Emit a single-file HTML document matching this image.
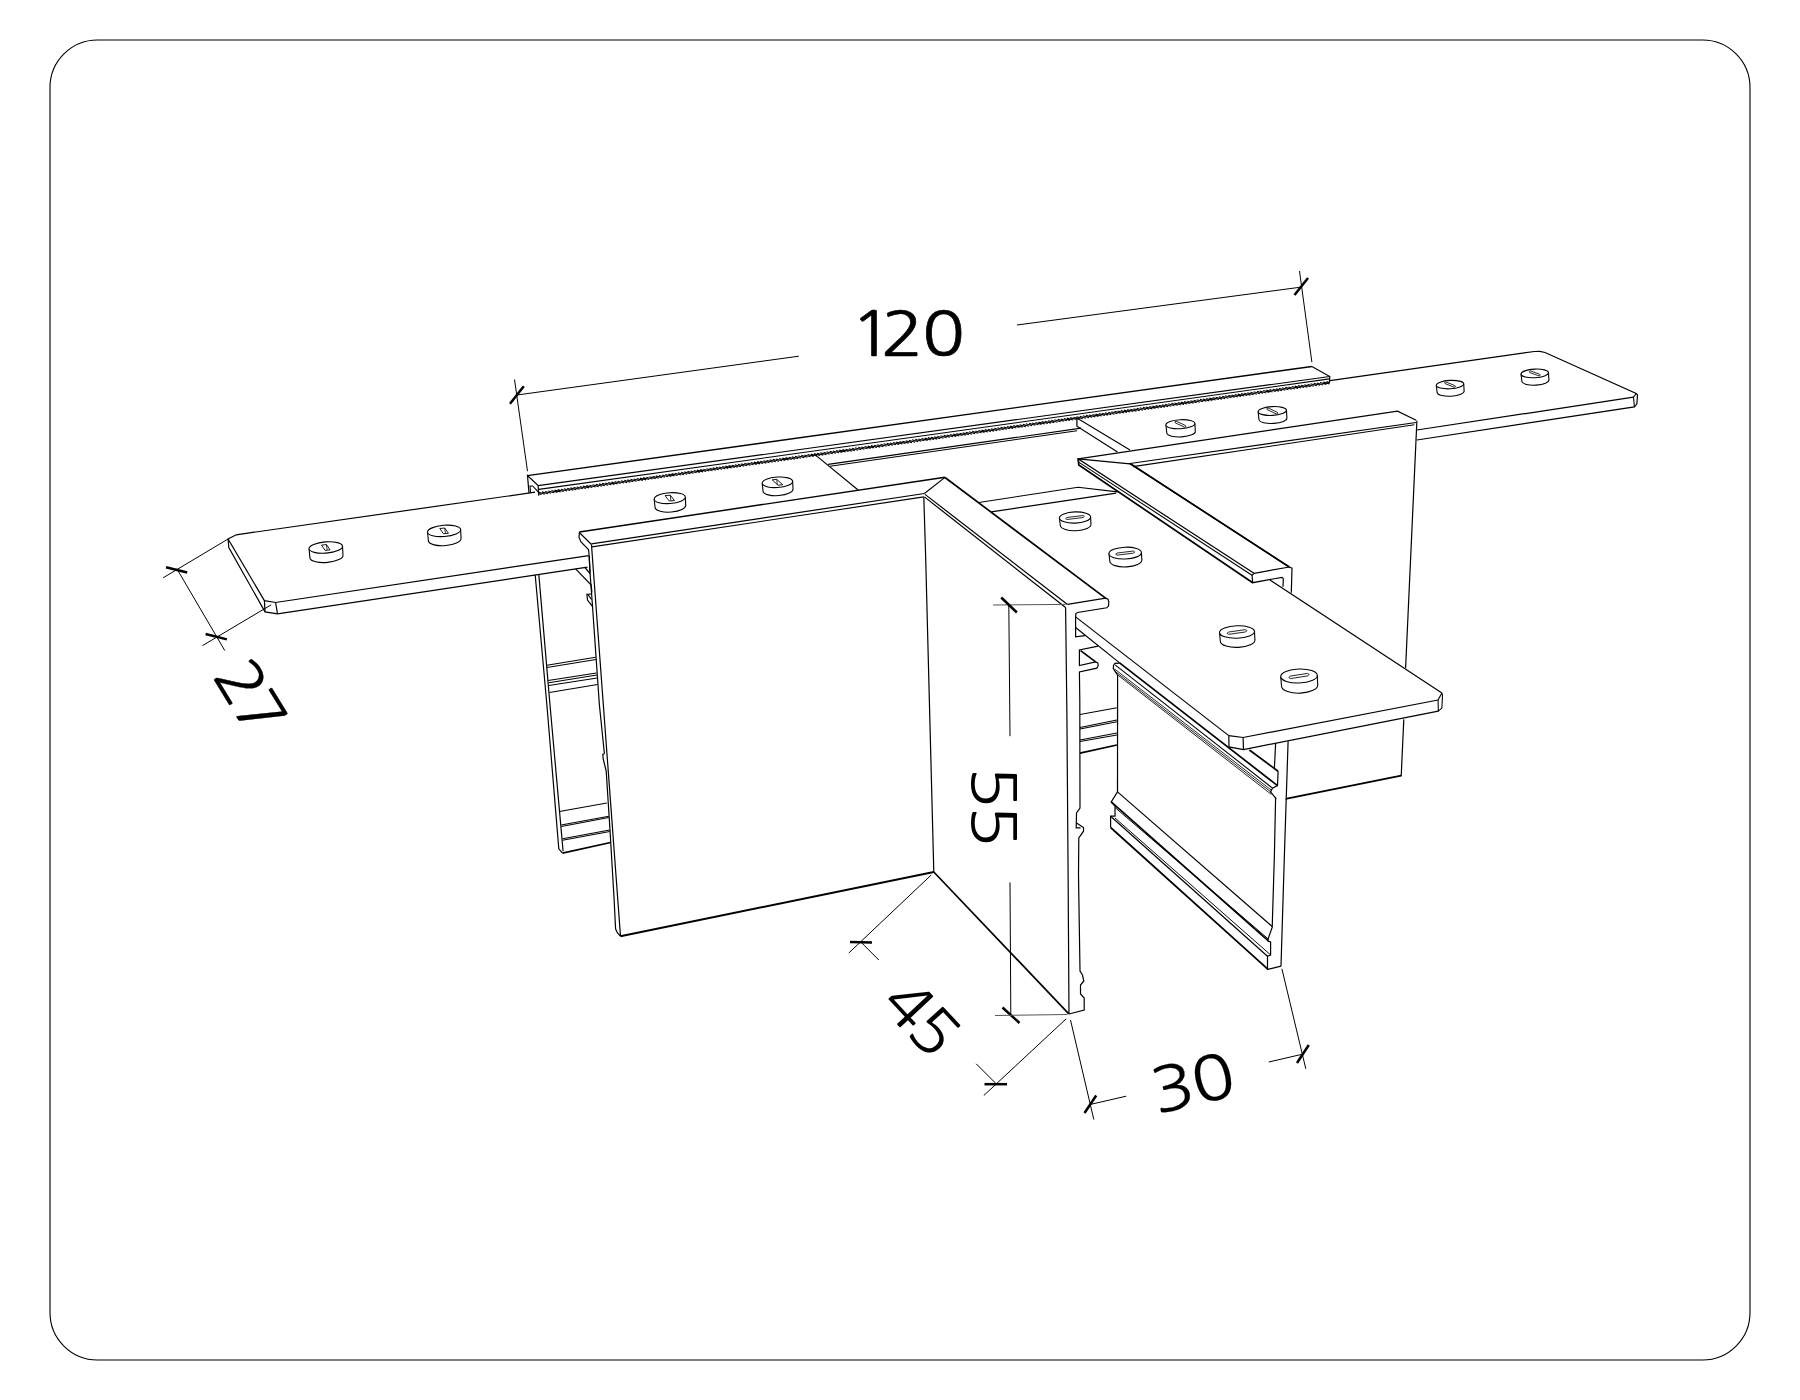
<!DOCTYPE html>
<html><head><meta charset="utf-8"><title>drawing</title>
<style>
html,body{margin:0;padding:0;background:#fff;}
svg{display:block}
path{fill:none;stroke-linecap:butt;stroke-linejoin:miter}
.t{font-family:"NanumGothic","Liberation Sans",sans-serif;fill:#000;}
</style></head><body>
<svg width="1800" height="1400" viewBox="0 0 1800 1400">
<rect x="50" y="40" width="1700" height="1320" rx="47.5" ry="47.5" fill="#fff" stroke="#000" stroke-width="1.12"/>
<path d="M535.0 492.2 L236.2 534.8 L228.1 539.0 L264.4 600.6 L275.6 602.5 L588.8 555.6" fill="none" stroke="#000" stroke-width="1.20"/>
<path d="M228.1 539.0 L228.8 547.5 L265.0 611.9 L277.5 613.8 L587.5 567.2" fill="none" stroke="#000" stroke-width="1.20"/>
<path d="M264.4 600.6 L265.0 611.9" stroke="#000" stroke-width="1.20"/>
<path d="M275.6 602.5 L277.5 613.8" stroke="#000" stroke-width="1.20"/>
<path d="M816.2 455.6 L858.1 490.0" stroke="#000" stroke-width="1.20"/>
<path d="M527.5 475.6 L1311.9 366.5" stroke="#000" stroke-width="1.40"/>
<path d="M538.1 485.6 L1329.8 376.5" stroke="#000" stroke-width="1.20"/>
<path d="M538.8 489.4 L1329.4 378.9" stroke="#000" stroke-width="1.08"/>
<path d="M538.8 493.7L541.6 494.6M538.8 492.3L544.8 494.2M541.9 491.9L548.0 493.7M545.1 491.4L551.1 493.3M548.2 491.0L554.3 492.8M551.4 490.5L557.5 492.4M554.6 490.1L560.6 491.9M557.7 489.6L563.8 491.5M560.9 489.2L567.0 491.0M564.1 488.7L570.1 490.6M567.2 488.3L573.3 490.2M570.4 487.9L576.4 489.7M573.5 487.4L579.6 489.3M576.7 487.0L582.8 488.8M579.9 486.5L585.9 488.4M583.0 486.1L589.1 487.9M586.2 485.6L592.3 487.5M589.4 485.2L595.4 487.0M592.5 484.7L598.6 486.6M595.7 484.3L601.8 486.2M598.9 483.9L604.9 485.7M602.0 483.4L608.1 485.3M605.2 483.0L611.3 484.8M608.3 482.5L614.4 484.4M611.5 482.1L617.6 483.9M614.7 481.6L620.7 483.5M617.8 481.2L623.9 483.0M621.0 480.7L627.1 482.6M624.2 480.3L630.2 482.2M627.3 479.9L633.4 481.7M630.5 479.4L636.6 481.3M633.7 479.0L639.7 480.8M636.8 478.5L642.9 480.4M640.0 478.1L646.1 479.9M643.1 477.6L649.2 479.5M646.3 477.2L652.4 479.0M649.5 476.7L655.6 478.6M652.6 476.3L658.7 478.2M655.8 475.9L661.9 477.7M659.0 475.4L665.0 477.3M662.1 475.0L668.2 476.8M665.3 474.5L671.4 476.4M668.5 474.1L674.5 475.9M671.6 473.6L677.7 475.5M674.8 473.2L680.9 475.0M677.9 472.7L684.0 474.6M681.1 472.3L687.2 474.2M684.3 471.9L690.4 473.7M687.4 471.4L693.5 473.3M690.6 471.0L696.7 472.8M693.8 470.5L699.9 472.4M696.9 470.1L703.0 471.9M700.1 469.6L706.2 471.5M703.2 469.2L709.3 471.0M706.4 468.7L712.5 470.6M709.6 468.3L715.7 470.2M712.7 467.9L718.8 469.7M715.9 467.4L722.0 469.3M719.1 467.0L725.2 468.8M722.2 466.5L728.3 468.4M725.4 466.1L731.5 467.9M728.6 465.6L734.7 467.5M731.7 465.2L737.8 467.1M734.9 464.7L741.0 466.6M738.0 464.3L744.2 466.2M741.2 463.9L747.3 465.7M744.4 463.4L750.5 465.3M747.5 463.0L753.6 464.8M750.7 462.5L756.8 464.4M753.9 462.1L760.0 463.9M757.0 461.6L763.1 463.5M760.2 461.2L766.3 463.1M763.4 460.7L769.5 462.6M766.5 460.3L772.6 462.2M769.7 459.9L775.8 461.7M772.8 459.4L779.0 461.3M776.0 459.0L782.1 460.8M779.2 458.5L785.3 460.4M782.3 458.1L788.5 459.9M785.5 457.6L791.6 459.5M788.7 457.2L794.8 459.1M791.8 456.7L798.0 458.6M795.0 456.3L801.1 458.2M798.2 455.8L804.3 457.7M801.3 455.4L807.4 457.3M804.5 455.0L810.6 456.8M807.6 454.5L813.8 456.4M810.8 454.1L816.9 455.9M814.0 453.6L820.1 455.5M817.1 453.2L823.3 455.1M820.3 452.7L826.4 454.6M823.5 452.3L829.6 454.2M826.6 451.8L832.8 453.7M829.8 451.4L835.9 453.3M833.0 451.0L839.1 452.8M836.1 450.5L842.3 452.4M839.3 450.1L845.4 451.9M842.4 449.6L848.6 451.5M845.6 449.2L851.7 451.1M848.8 448.7L854.9 450.6M851.9 448.3L858.1 450.2M855.1 447.8L861.2 449.7M858.3 447.4L864.4 449.3M861.4 447.0L867.6 448.8M864.6 446.5L870.7 448.4M867.7 446.1L873.9 447.9M870.9 445.6L877.1 447.5M874.1 445.2L880.2 447.1M877.2 444.7L883.4 446.6M880.4 444.3L886.6 446.2M883.6 443.8L889.7 445.7M886.7 443.4L892.9 445.3M889.9 443.0L896.0 444.8M893.1 442.5L899.2 444.4M896.2 442.1L902.4 444.0M899.4 441.6L905.5 443.5M902.5 441.2L908.7 443.1M905.7 440.7L911.9 442.6M908.9 440.3L915.0 442.2M912.0 439.8L918.2 441.7M915.2 439.4L921.4 441.3M918.4 439.0L924.5 440.8M921.5 438.5L927.7 440.4M924.7 438.1L930.9 440.0M927.9 437.6L934.0 439.5M931.0 437.2L937.2 439.1M934.2 436.7L940.3 438.6M937.3 436.3L943.5 438.2M940.5 435.8L946.7 437.7M943.7 435.4L949.8 437.3M946.8 435.0L953.0 436.8M950.0 434.5L956.2 436.4M953.2 434.1L959.3 436.0M956.3 433.6L962.5 435.5M959.5 433.2L965.7 435.1M962.7 432.7L968.8 434.6M965.8 432.3L972.0 434.2M969.0 431.8L975.2 433.7M972.1 431.4L978.3 433.3M975.3 431.0L981.5 432.8M978.5 430.5L984.6 432.4M981.6 430.1L987.8 432.0M984.8 429.6L991.0 431.5M988.0 429.2L994.1 431.1M991.1 428.7L997.3 430.6M994.3 428.3L1000.5 430.2M997.5 427.8L1003.6 429.7M1000.6 427.4L1006.8 429.3M1003.8 427.0L1010.0 428.8M1006.9 426.5L1013.1 428.4M1010.1 426.1L1016.3 428.0M1013.3 425.6L1019.5 427.5M1016.4 425.2L1022.6 427.1M1019.6 424.7L1025.8 426.6M1022.8 424.3L1028.9 426.2M1025.9 423.8L1032.1 425.7M1029.1 423.4L1035.3 425.3M1032.2 423.0L1038.4 424.8M1035.4 422.5L1041.6 424.4M1038.6 422.1L1044.8 424.0M1041.7 421.6L1047.9 423.5M1044.9 421.2L1051.1 423.1M1048.1 420.7L1054.3 422.6M1051.2 420.3L1057.4 422.2M1054.4 419.8L1060.6 421.7M1057.6 419.4L1063.8 421.3M1060.7 419.0L1066.9 420.8M1063.9 418.5L1070.1 420.4M1067.0 418.1L1073.2 420.0M1070.2 417.6L1076.4 419.5M1073.4 417.2L1079.6 419.1M1076.5 416.7L1082.7 418.6M1079.7 416.3L1085.9 418.2M1082.9 415.8L1089.1 417.7M1086.0 415.4L1092.2 417.3M1089.2 415.0L1095.4 416.9M1092.4 414.5L1098.6 416.4M1095.5 414.1L1101.7 416.0M1098.7 413.6L1104.9 415.5M1101.8 413.2L1108.1 415.1M1105.0 412.7L1111.2 414.6M1108.2 412.3L1114.4 414.2M1111.3 411.8L1117.5 413.7M1114.5 411.4L1120.7 413.3M1117.7 411.0L1123.9 412.9M1120.8 410.5L1127.0 412.4M1124.0 410.1L1130.2 412.0M1127.2 409.6L1133.4 411.5M1130.3 409.2L1136.5 411.1M1133.5 408.7L1139.7 410.6M1136.6 408.3L1142.9 410.2M1139.8 407.8L1146.0 409.7M1143.0 407.4L1149.2 409.3M1146.1 407.0L1152.4 408.9M1149.3 406.5L1155.5 408.4M1152.5 406.1L1158.7 408.0M1155.6 405.6L1161.9 407.5M1158.8 405.2L1165.0 407.1M1161.9 404.7L1168.2 406.6M1165.1 404.3L1171.3 406.2M1168.3 403.8L1174.5 405.7M1171.4 403.4L1177.7 405.3M1174.6 403.0L1180.8 404.9M1177.8 402.5L1184.0 404.4M1180.9 402.1L1187.2 404.0M1184.1 401.6L1190.3 403.5M1187.3 401.2L1193.5 403.1M1190.4 400.7L1196.7 402.6M1193.6 400.3L1199.8 402.2M1196.7 399.8L1203.0 401.7M1199.9 399.4L1206.2 401.3M1203.1 399.0L1209.3 400.9M1206.2 398.5L1212.5 400.4M1209.4 398.1L1215.6 400.0M1212.6 397.6L1218.8 399.5M1215.7 397.2L1222.0 399.1M1218.9 396.7L1225.1 398.6M1222.1 396.3L1228.3 398.2M1225.2 395.8L1231.5 397.7M1228.4 395.4L1234.6 397.3M1231.5 395.0L1237.8 396.9M1234.7 394.5L1241.0 396.4M1237.9 394.1L1244.1 396.0M1241.0 393.6L1247.3 395.5M1244.2 393.2L1250.5 395.1M1247.4 392.7L1253.6 394.6M1250.5 392.3L1256.8 394.2M1253.7 391.8L1259.9 393.8M1256.9 391.4L1263.1 393.3M1260.0 390.9L1266.3 392.9M1263.2 390.5L1269.4 392.4M1266.3 390.1L1272.6 392.0M1269.5 389.6L1275.8 391.5M1272.7 389.2L1278.9 391.1M1275.8 388.7L1282.1 390.6M1279.0 388.3L1285.3 390.2M1282.2 387.8L1288.4 389.8M1285.3 387.4L1291.6 389.3M1288.5 386.9L1294.8 388.9M1291.7 386.5L1297.9 388.4M1294.8 386.1L1301.1 388.0M1298.0 385.6L1304.2 387.5M1301.1 385.2L1307.4 387.1M1304.3 384.7L1310.6 386.6M1307.5 384.3L1313.7 386.2M1310.6 383.8L1316.9 385.8M1313.8 383.4L1320.1 385.3M1317.0 382.9L1323.2 384.9M1320.1 382.5L1326.4 384.4M1323.3 382.1L1329.4 383.9M1326.4 381.6L1329.4 382.5" stroke="#000" stroke-width="1.10"/>
<path d="M529.0 493.1 L527.5 475.6 L538.1 485.6 L538.8 495.6" fill="none" stroke="#000" stroke-width="1.20"/>
<path d="M530.6 493.0 L530.0 486.0 L532.6 486.0 L538.4 492.2" fill="none" stroke="#000" stroke-width="1.08"/>
<path d="M1311.9 366.5 L1329.8 376.5 L1329.4 383.3" fill="none" stroke="#000" stroke-width="1.20"/>
<path d="M828.1 464.4 L1081.2 428.1" stroke="#000" stroke-width="1.08"/>
<path d="M830.0 466.2 L1077.0 430.8" stroke="#000" stroke-width="1.08"/>
<path d="M1130.0 450.0 L1076.9 418.1 L1076.9 426.2 L1117.5 451.9" fill="none" stroke="#000" stroke-width="1.20"/>
<path d="M1330.0 380.6 L1534.4 351.5 L1540.0 351.3 L1545.0 352.5 L1636.2 393.5 L1637.5 395.0 L1636.9 403.8 L1634.4 406.9 L1416.9 440.0" fill="none" stroke="#000" stroke-width="1.20"/>
<path d="M1636.2 393.5 L1633.5 397.2 L1634.4 406.9" fill="none" stroke="#000" stroke-width="1.08"/>
<path d="M1416.9 430.0 L1633.5 397.2" stroke="#000" stroke-width="1.20"/>
<path d="M579.4 532.0 L945.0 477.2" stroke="#000" stroke-width="1.45"/>
<path d="M591.5 543.9 L924.4 493.5" stroke="#000" stroke-width="1.20"/>
<path d="M591.9 546.9 L923.8 496.9" stroke="#000" stroke-width="1.08"/>
<path d="M924.4 493.5 L945.0 477.4" stroke="#000" stroke-width="1.20"/>
<path d="M591.5 544.5 L579.4 532.5 L579.0 537.5 L581.0 542.0 L588.5 549.5 L589.2 556.0 L590.0 572.5" fill="none" stroke="#000" stroke-width="1.20"/>
<path d="M591.5 544.5 L592.0 552.0 L620.5 936.2" fill="none" stroke="#000" stroke-width="1.20"/>
<path d="M589.2 556.0 L590.0 572.5 L592.5 606.2 L599.4 705.0 L604.4 753.8" fill="none" stroke="#000" stroke-width="1.20"/>
<path d="M604.4 753.8 L602.8 754.5 L603.2 759.0 L606.2 771.2 L610.0 830.0 L614.2 900.8 L615.0 917.5 L615.6 929.0 L617.5 933.0 L620.4 936.2" fill="none" stroke="#000" stroke-width="1.20"/>
<path d="M575.6 568.8 L591.2 585.0 L591.9 592.5" fill="none" stroke="#000" stroke-width="1.20"/>
<path d="M585.0 567.5 L590.2 573.8" fill="none" stroke="#000" stroke-width="1.20"/>
<path d="M591.9 594.0 L586.9 594.4 L587.5 600.0 L592.2 606.2" fill="none" stroke="#000" stroke-width="1.20"/>
<path d="M588.3 595.0 L591.5 599.5" fill="none" stroke="#000" stroke-width="1.20"/>
<path d="M923.8 496.9 L925.6 555.0 L933.8 872.0" fill="none" stroke="#000" stroke-width="1.20"/>
<path d="M933.8 872.0 L620.4 936.2" stroke="#000" stroke-width="1.90"/>
<path d="M535.2 575.0 L546.9 705.0 L558.8 848.8 L562.5 853.1" fill="none" stroke="#000" stroke-width="1.20"/>
<path d="M538.8 574.4 L550.0 705.0 L563.1 851.2" fill="none" stroke="#000" stroke-width="1.20"/>
<path d="M546.9 665.2 L595.6 657.2" stroke="#000" stroke-width="1.02"/>
<path d="M546.9 667.5 L596.0 659.4" stroke="#000" stroke-width="1.02"/>
<path d="M548.1 680.6 L596.5 673.1" stroke="#000" stroke-width="1.02"/>
<path d="M548.8 682.8 L596.9 675.0" stroke="#000" stroke-width="1.02"/>
<path d="M548.8 685.6 L597.2 678.1" stroke="#000" stroke-width="1.02"/>
<path d="M549.4 692.5 L597.5 684.4" stroke="#000" stroke-width="1.02"/>
<path d="M559.4 811.5 L606.9 803.1" stroke="#000" stroke-width="1.02"/>
<path d="M561.2 825.0 L608.8 816.2" stroke="#000" stroke-width="1.02"/>
<path d="M561.3 826.5 L608.8 817.6" stroke="#000" stroke-width="1.02"/>
<path d="M562.5 838.8 L609.8 830.0" stroke="#000" stroke-width="1.02"/>
<path d="M562.5 840.2 L609.8 831.5" stroke="#000" stroke-width="1.02"/>
<path d="M562.5 853.1 L610.6 842.5" stroke="#000" stroke-width="1.70"/>
<path d="M945.0 477.5 L1106.2 598.6" stroke="#000" stroke-width="1.70"/>
<path d="M925.0 494.4 L1067.5 604.4" stroke="#000" stroke-width="1.20"/>
<path d="M924.4 496.9 L1065.6 607.5" stroke="#000" stroke-width="1.20"/>
<path d="M933.8 872.0 L1068.8 1013.8" stroke="#000" stroke-width="1.70"/>
<path d="M1065.6 607.5 L1066.9 715.0 L1068.1 875.0 L1069.0 1014.0" fill="none" stroke="#000" stroke-width="1.20"/>
<path d="M1067.5 604.4 L1105.5 598.1 L1108.0 599.3 L1108.8 601.8 L1108.6 605.8 L1106.8 607.8 L1077.5 612.5 L1075.8 613.5 L1075.6 616.9 L1075.6 636.9 L1085.0 635.6" fill="none" stroke="#000" stroke-width="1.20"/>
<path d="M1098.1 646.2 L1079.4 650.0 L1079.4 665.6 L1095.6 661.9 L1097.8 663.0 L1098.2 665.5 L1096.9 668.1 L1079.4 671.9 L1079.8 700.0 L1080.0 808.0 L1076.5 813.0 L1076.2 827.8 L1080.6 827.8" fill="none" stroke="#000" stroke-width="1.20"/>
<path d="M1080.6 650.6 L1095.6 661.9" stroke="#000" stroke-width="1.70"/>
<path d="M1076.5 823.0 L1083.5 827.5 L1083.5 831.2 L1078.8 838.0 L1078.5 875.0 L1080.0 971.0 L1082.5 975.0 L1083.8 981.0 L1080.5 985.0 L1080.5 994.0 L1084.2 998.0 L1084.2 1010.0 L1069.0 1014.0" fill="none" stroke="#000" stroke-width="1.20"/>
<path d="M1080.0 714.4 L1116.9 707.8" stroke="#000" stroke-width="1.02"/>
<path d="M1080.0 727.5 L1116.9 720.0" stroke="#000" stroke-width="1.02"/>
<path d="M1080.0 729.0 L1116.9 721.8" stroke="#000" stroke-width="1.02"/>
<path d="M1080.0 740.0 L1116.9 733.1" stroke="#000" stroke-width="1.02"/>
<path d="M1080.0 741.6 L1116.9 735.0" stroke="#000" stroke-width="1.02"/>
<path d="M1080.0 753.1 L1116.9 745.0" stroke="#000" stroke-width="1.70"/>
<path d="M1075.6 616.9 L1228.8 735.6" stroke="#000" stroke-width="1.20"/>
<path d="M1075.6 627.5 L1119.6 662.9" stroke="#000" stroke-width="1.20"/>
<path d="M1270.0 580.0 L1441.9 693.1" stroke="#000" stroke-width="1.20"/>
<path d="M1228.8 735.6 L1243.1 737.5 L1438.1 700.0" fill="none" stroke="#000" stroke-width="1.20"/>
<path d="M1228.8 735.6 L1229.0 746.9 L1243.5 749.6 L1438.3 711.2" fill="none" stroke="#000" stroke-width="1.20"/>
<path d="M1243.1 737.5 L1243.5 749.6" stroke="#000" stroke-width="1.20"/>
<path d="M1441.9 693.1 L1442.5 695.0 L1441.9 708.1 L1438.3 711.2 L1438.1 700.0 L1441.9 693.1" fill="none" stroke="#000" stroke-width="1.08"/>
<path d="M978.8 502.5 L1078.1 487.2 L1117.5 491.9" fill="none" stroke="#000" stroke-width="1.08"/>
<path d="M991.2 511.9 L1116.2 493.1" stroke="#000" stroke-width="1.20"/>
<path d="M1416.2 422.5 L1130.0 463.5 L1289.3 567.0" fill="none" stroke="#000" stroke-width="1.20"/>
<path d="M1133.0 466.6 L1414.4 424.8" stroke="#000" stroke-width="1.08"/>
<path d="M1254.0 573.3 L1078.1 458.8 L1397.5 411.2 L1416.2 420.2" fill="none" stroke="#000" stroke-width="1.20"/>
<path d="M1078.1 458.8 L1130.0 463.8" stroke="#000" stroke-width="1.20"/>
<path d="M1078.3 461.9 L1252.0 575.3" stroke="#000" stroke-width="1.08"/>
<path d="M1078.1 458.8 L1078.8 465.0 L1252.7 582.7" fill="none" stroke="#000" stroke-width="1.70"/>
<path d="M1254.0 573.3 L1289.3 567.0 L1292.0 568.2 L1291.3 592.7" fill="none" stroke="#000" stroke-width="1.20"/>
<path d="M1254.0 573.3 L1252.0 575.3 L1252.7 582.7 L1282.0 577.3 L1283.3 578.7 L1283.0 586.7" fill="none" stroke="#000" stroke-width="1.20"/>
<path d="M1130.0 463.5 L1289.3 567.0" stroke="#000" stroke-width="1.70"/>
<path d="M1416.9 420.6 L1405.6 668.1" stroke="#000" stroke-width="1.20"/>
<path d="M1403.8 719.4 L1401.2 776.2" stroke="#000" stroke-width="1.20"/>
<path d="M1401.2 775.6 L1285.6 798.8" stroke="#000" stroke-width="1.70"/>
<path d="M1288.1 741.2 L1284.4 855.0 L1281.0 966.2" fill="none" stroke="#000" stroke-width="1.20"/>
<path d="M1275.6 743.8 L1274.4 768.0" stroke="#000" stroke-width="1.20"/>
<path d="M1275.6 797.5 L1274.4 855.0 L1272.2 927.5 L1268.1 938.8 L1268.1 941.2 L1270.6 941.9 L1270.6 955.0 L1267.5 956.2 L1267.5 969.4 L1281.0 966.2" fill="none" stroke="#000" stroke-width="1.20"/>
<path d="M1117.6 674.9 L1117.5 791.9" stroke="#000" stroke-width="1.20"/>
<path d="M1117.5 791.9 L1111.2 801.9 L1115.0 806.2 L1115.0 816.2 L1110.6 816.2 L1110.6 827.5" fill="none" stroke="#000" stroke-width="1.20"/>
<path d="M1117.5 791.9 L1272.2 926.5" stroke="#000" stroke-width="1.20"/>
<path d="M1111.2 801.9 L1268.1 940.6" stroke="#000" stroke-width="1.70"/>
<path d="M1115.0 807.5 L1268.3 939.0" stroke="#000" stroke-width="0.96"/>
<path d="M1110.6 816.2 L1267.5 956.2" stroke="#000" stroke-width="1.20"/>
<path d="M1115.0 818.0 L1270.0 954.4" stroke="#000" stroke-width="0.96"/>
<path d="M1110.6 827.5 L1267.5 968.8" stroke="#000" stroke-width="1.70"/>
<path d="M1119.6 663.1 L1114.9 663.3 L1113.5 665.5 L1113.3 668.7 L1115.6 672.2 L1117.6 674.9" fill="none" stroke="#000" stroke-width="1.20"/>
<path d="M1119.6 662.9 L1277.5 785.6" stroke="#000" stroke-width="1.70"/>
<path d="M1115.1 664.9 L1272.5 788.1" stroke="#000" stroke-width="1.08"/>
<path d="M1114.7 669.1 L1271.8 790.5" stroke="#000" stroke-width="0.85"/>
<path d="M1115.3 671.5 L1271.2 792.2" stroke="#000" stroke-width="0.85"/>
<path d="M1117.6 674.9 L1271.3 794.4" stroke="#000" stroke-width="0.85"/>
<path d="M1249.4 750.0 L1278.1 771.2" stroke="#000" stroke-width="1.70"/>
<path d="M1278.1 771.2 L1277.5 785.6 L1272.5 788.1 L1270.6 791.9 L1276.2 798.8" fill="none" stroke="#000" stroke-width="1.20"/>
<path d="M309.05 548.82 L309.95 558.12 A16.46 5.88 -4.5 0 0 342.95 555.02 L342.55 546.18" fill="#fff" stroke="#000" stroke-width="1.1"/>
<ellipse cx="325.80" cy="547.50" rx="16.80" ry="5.60" transform="rotate(-4.5 325.80 547.50)" fill="#fff" stroke="#000" stroke-width="1.1"/>
<path d="M321.51 545.10 L326.51 544.60 L330.09 549.90 L325.09 550.40 Z" stroke="#000" stroke-width="0.9"/>
<path d="M326.51 544.60 L327.11 549.90" stroke="#000" stroke-width="0.8"/>
<path d="M427.55 532.20 L428.45 541.20 A16.27 5.88 -4.5 0 0 461.05 538.15 L460.65 529.60" fill="#fff" stroke="#000" stroke-width="1.1"/>
<ellipse cx="444.10" cy="530.90" rx="16.60" ry="5.60" transform="rotate(-4.5 444.10 530.90)" fill="#fff" stroke="#000" stroke-width="1.1"/>
<path d="M439.76 528.53 L444.76 528.03 L448.44 533.27 L443.44 533.77 Z" stroke="#000" stroke-width="0.9"/>
<path d="M444.76 528.03 L445.36 533.27" stroke="#000" stroke-width="0.8"/>
<path d="M654.19 499.19 L655.09 507.69 A15.29 5.67 -4.0 0 0 685.71 505.09 L685.31 497.01" fill="#fff" stroke="#000" stroke-width="1.1"/>
<ellipse cx="669.75" cy="498.10" rx="15.60" ry="5.40" transform="rotate(-4.0 669.75 498.10)" fill="#fff" stroke="#000" stroke-width="1.1"/>
<path d="M665.06 495.67 L670.26 495.17 L674.44 500.53 L669.24 501.03 Z" stroke="#000" stroke-width="0.9"/>
<path d="M670.26 495.17 L670.86 500.53" stroke="#000" stroke-width="0.8"/>
<path d="M762.19 483.36 L763.09 491.36 A14.95 5.51 -4.0 0 0 793.01 488.84 L792.61 481.24" fill="#fff" stroke="#000" stroke-width="1.1"/>
<ellipse cx="777.40" cy="482.30" rx="15.25" ry="5.25" transform="rotate(-4.0 777.40 482.30)" fill="#fff" stroke="#000" stroke-width="1.1"/>
<path d="M772.13 479.87 L776.73 479.37 L782.67 484.73 L778.07 485.23 Z" stroke="#000" stroke-width="0.9"/>
<path d="M776.73 479.37 L777.33 484.73" stroke="#000" stroke-width="0.8"/>
<path d="M1165.92 424.96 L1166.82 433.16 A14.21 4.73 -3.0 0 0 1195.28 431.23 L1194.88 423.44" fill="#fff" stroke="#000" stroke-width="1.1"/>
<ellipse cx="1180.40" cy="424.20" rx="14.50" ry="4.50" transform="rotate(-3.0 1180.40 424.20)" fill="#fff" stroke="#000" stroke-width="1.1"/>
<path d="M1174.96 421.66 L1175.32 422.88 L1184.68 427.24 L1185.84 426.74 L1185.48 425.52 L1176.12 421.16 Z" stroke="#000" stroke-width="0.85"/>
<path d="M1258.12 411.74 L1259.02 419.74 A13.92 4.62 -3.0 0 0 1286.88 417.86 L1286.48 410.26" fill="#fff" stroke="#000" stroke-width="1.1"/>
<ellipse cx="1272.30" cy="411.00" rx="14.20" ry="4.40" transform="rotate(-3.0 1272.30 411.00)" fill="#fff" stroke="#000" stroke-width="1.1"/>
<path d="M1266.86 408.46 L1267.22 409.68 L1276.58 414.04 L1277.74 413.54 L1277.38 412.32 L1268.02 407.96 Z" stroke="#000" stroke-width="0.85"/>
<path d="M1436.27 385.32 L1437.17 392.72 A13.47 4.41 -3.0 0 0 1464.13 390.91 L1463.73 383.88" fill="#fff" stroke="#000" stroke-width="1.1"/>
<ellipse cx="1450.00" cy="384.60" rx="13.75" ry="4.20" transform="rotate(-3.0 1450.00 384.60)" fill="#fff" stroke="#000" stroke-width="1.1"/>
<path d="M1444.62 382.43 L1445.04 383.57 L1454.29 387.30 L1455.38 386.77 L1454.96 385.63 L1445.71 381.90 Z" stroke="#000" stroke-width="0.85"/>
<path d="M1521.02 374.12 L1521.92 381.52 A13.47 4.51 -3.0 0 0 1548.88 379.71 L1548.48 372.68" fill="#fff" stroke="#000" stroke-width="1.1"/>
<ellipse cx="1534.75" cy="373.40" rx="13.75" ry="4.30" transform="rotate(-3.0 1534.75 373.40)" fill="#fff" stroke="#000" stroke-width="1.1"/>
<path d="M1529.30 371.42 L1529.75 372.54 L1539.13 375.95 L1540.20 375.38 L1539.75 374.26 L1530.37 370.85 Z" stroke="#000" stroke-width="0.85"/>
<path d="M1059.41 518.04 L1060.31 525.54 A15.29 5.88 -2.0 0 0 1090.99 524.08 L1090.59 516.96" fill="#fff" stroke="#000" stroke-width="1.1"/>
<ellipse cx="1075.00" cy="517.50" rx="15.60" ry="5.60" transform="rotate(-2.0 1075.00 517.50)" fill="#fff" stroke="#000" stroke-width="1.1"/>
<path d="M1065.67 518.65 L1067.10 519.48 L1083.15 517.51 L1084.33 516.35 L1082.90 515.52 L1066.85 517.49 Z" stroke="#000" stroke-width="0.85"/>
<path d="M1108.96 553.67 L1109.86 561.47 A15.92 6.20 -2.0 0 0 1141.84 559.94 L1141.44 552.53" fill="#fff" stroke="#000" stroke-width="1.1"/>
<ellipse cx="1125.20" cy="553.10" rx="16.25" ry="5.90" transform="rotate(-2.0 1125.20 553.10)" fill="#fff" stroke="#000" stroke-width="1.1"/>
<path d="M1115.67 554.27 L1117.13 555.15 L1133.52 553.14 L1134.73 551.93 L1133.27 551.05 L1116.88 553.06 Z" stroke="#000" stroke-width="0.85"/>
<path d="M1219.51 632.61 L1220.41 641.61 A17.15 6.56 -2.0 0 0 1254.89 639.94 L1254.49 631.39" fill="#fff" stroke="#000" stroke-width="1.1"/>
<ellipse cx="1237.00" cy="632.00" rx="17.50" ry="6.25" transform="rotate(-2.0 1237.00 632.00)" fill="#fff" stroke="#000" stroke-width="1.1"/>
<path d="M1227.10 633.39 L1228.64 634.34 L1245.68 631.94 L1246.90 630.61 L1245.36 629.66 L1228.32 632.06 Z" stroke="#000" stroke-width="0.85"/>
<path d="M1280.71 676.64 L1281.61 686.64 A17.93 7.35 -2.0 0 0 1317.69 684.86 L1317.29 675.36" fill="#fff" stroke="#000" stroke-width="1.1"/>
<ellipse cx="1299.00" cy="676.00" rx="18.30" ry="7.00" transform="rotate(-2.0 1299.00 676.00)" fill="#fff" stroke="#000" stroke-width="1.1"/>
<path d="M1288.83 677.61 L1290.45 678.62 L1307.94 675.85 L1309.17 674.39 L1307.55 673.38 L1290.06 676.15 Z" stroke="#000" stroke-width="0.85"/>
<path d="M228.1 539.0 L163.1 577.8" stroke="#000" stroke-width="1.00"/>
<path d="M271.2 604.8 L202.5 645.6" stroke="#000" stroke-width="1.00"/>
<path d="M176.9 568.8 L224.8 650.6" stroke="#000" stroke-width="1.00"/>
<path d="M166.0 567.2 L187.2 572.5" stroke="#000" stroke-width="2.50"/>
<path d="M205.6 634.0 L226.9 639.4" stroke="#000" stroke-width="2.50"/>
<text x="-34.01 -0.72" y="22.68" transform="translate(250.60 696.10) rotate(58.50) scale(1.100 1)" font-size="60.80" class="t" stroke="#000" stroke-width="0.30">27</text>
<path d="M514.5 379.5 L527.5 471.2" stroke="#000" stroke-width="1.00"/>
<path d="M510.0 403.8 L523.8 386.2" stroke="#000" stroke-width="2.50"/>
<path d="M517.0 395.0 L798.8 356.2" stroke="#000" stroke-width="1.00"/>
<path d="M1017.0 325.0 L1302.0 287.0" stroke="#000" stroke-width="1.00"/>
<path d="M1294.5 295.0 L1308.0 278.0" stroke="#000" stroke-width="2.50"/>
<path d="M1299.5 271.0 L1311.9 362.2" stroke="#000" stroke-width="1.00"/>
<text x="-53.38 -26.89 9.06" y="23.01" transform="translate(911.65 333.00) rotate(0.00) scale(1.150 1)" font-size="61.70" class="t" stroke="#000" stroke-width="0.60">120</text>
<path d="M993.1 605.0 L1065.6 604.4" stroke="#555" stroke-width="1.00"/>
<path d="M1001.2 597.5 L1016.9 612.5" stroke="#000" stroke-width="2.50"/>
<path d="M1008.8 605.0 L1010.0 736.2" stroke="#000" stroke-width="1.00"/>
<path d="M1010.0 882.5 L1010.8 1013.8" stroke="#000" stroke-width="1.00"/>
<path d="M1002.5 1007.5 L1019.5 1023.0" stroke="#000" stroke-width="2.50"/>
<path d="M995.0 1015.5 L1067.5 1014.5" stroke="#555" stroke-width="1.00"/>
<text x="-36.70 -2.49" y="23.09" transform="translate(994.85 807.65) rotate(90.00) scale(1.140 1)" font-size="61.90" class="t">55</text>
<path d="M931.2 875.0 L848.8 953.0" stroke="#000" stroke-width="1.00"/>
<path d="M850.0 942.0 L872.0 942.5" stroke="#000" stroke-width="2.50"/>
<path d="M860.0 941.2 L878.8 960.0" stroke="#000" stroke-width="1.00"/>
<path d="M976.2 1063.8 L996.2 1083.8" stroke="#000" stroke-width="1.00"/>
<path d="M984.5 1084.2 L1007.0 1084.2" stroke="#000" stroke-width="2.50"/>
<path d="M1066.2 1018.8 L983.8 1095.5" stroke="#000" stroke-width="1.00"/>
<text x="-34.13 -0.68" y="22.94" transform="translate(921.30 1016.60) rotate(47.00) scale(1.110 1)" font-size="61.50" class="t">45</text>
<path d="M1070.5 1020.0 L1093.8 1119.5" stroke="#000" stroke-width="1.00"/>
<path d="M1084.5 1113.0 L1096.2 1095.5" stroke="#000" stroke-width="2.50"/>
<path d="M1090.0 1104.5 L1126.2 1096.2" stroke="#000" stroke-width="1.00"/>
<path d="M1268.8 1062.0 L1301.2 1054.5" stroke="#000" stroke-width="1.00"/>
<path d="M1297.0 1063.0 L1308.8 1045.0" stroke="#000" stroke-width="2.50"/>
<path d="M1281.9 968.8 L1305.8 1068.8" stroke="#000" stroke-width="1.00"/>
<text x="-37.70 -1.38" y="23.09" transform="translate(1193.50 1081.90) rotate(-13.30) scale(1.140 1)" font-size="61.90" class="t" stroke="#000" stroke-width="0.20">30</text>
</svg>
</body></html>
